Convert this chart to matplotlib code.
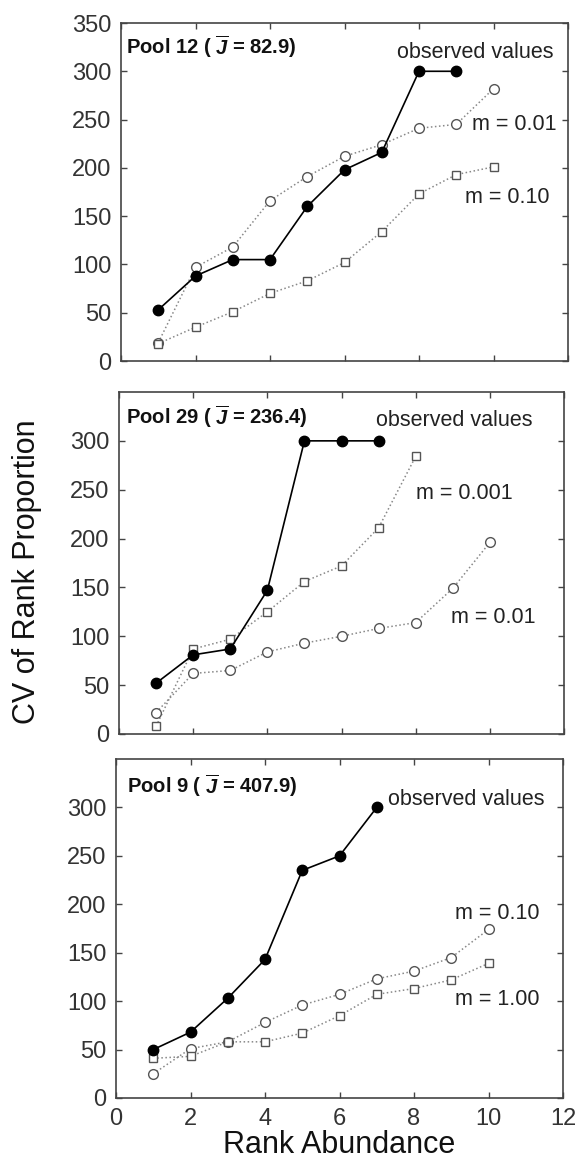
import matplotlib

matplotlib.use("Agg")
import matplotlib.pyplot as plt  # noqa: E402

plt.rcParams["font.family"] = ["Liberation Sans", "DejaVu Sans"]
plt.rcParams["mathtext.fontset"] = "custom"
plt.rcParams["mathtext.it"] = "Liberation Sans:italic:bold"
plt.rcParams["mathtext.rm"] = "Liberation Sans:bold"

# rank abundance (x)
ranks_obs_12 = [1, 2, 3, 4, 5, 6, 7, 8, 9]
ranks_obs_29 = [1, 2, 3, 4, 5, 6, 7]
ranks_obs_9 = [1, 2, 3, 4, 5, 6, 7]
ranks_10 = [1, 2, 3, 4, 5, 6, 7, 8, 9, 10]
ranks_8 = [1, 2, 3, 4, 5, 6, 7, 8]

# Pool 12
pool12_obs = [53, 88, 105, 105, 160, 198, 216, 300, 300]
pool12_m001 = [19, 97, 118, 166, 191, 212, 224, 241, 245, 282]
pool12_m010 = [18, 35, 51, 70, 83, 102, 134, 173, 193, 201]

# Pool 29
pool29_obs = [52, 81, 87, 147, 300, 300, 300]
pool29_m0001 = [8, 87, 97, 125, 156, 172, 211, 284]
pool29_m001 = [22, 62, 65, 84, 93, 100, 108, 114, 149, 196]

# Pool 9
pool9_obs = [50, 68, 103, 143, 235, 250, 300]
pool9_m010 = [25, 51, 58, 78, 96, 107, 123, 131, 145, 174]
pool9_m100 = [41, 43, 58, 58, 67, 85, 107, 113, 122, 139]

FIG_W, FIG_H = 577, 1162
fig = plt.figure(figsize=(FIG_W / 100, FIG_H / 100), dpi=100)


def add_axes(left, top, right, bottom):
    return fig.add_axes([left / FIG_W, 1 - bottom / FIG_H,
                         (right - left) / FIG_W, (bottom - top) / FIG_H])


def style_axes(ax, yticks, show_x):
    ax.set_xlim(0, 12)
    ax.set_ylim(0, 350)
    ax.set_xticks([0, 2, 4, 6, 8, 10, 12])
    ax.set_yticks(yticks)
    ax.tick_params(direction="in", length=4, width=1, top=True, right=True,
                   labelsize=17, colors="#444444", labelcolor="#333333", pad=7)
    if not show_x:
        ax.tick_params(labelbottom=False)
    for sp in ax.spines.values():
        sp.set_color("#444444")
        sp.set_linewidth(1.2)


def draw_obs(ax, x, y):
    ax.plot(x, y, "-", color="black", lw=1.2, marker="o", ms=7.5,
            mfc="black", mec="black", zorder=4)


def draw_model(ax, x, y, marker):
    ms = 7 if marker == "o" else 5.5
    ax.plot(x, y, ":", color="#888888", lw=1.1, marker=marker, ms=ms,
            mfc="white", mec="#555555", mew=1.0, zorder=3)


TXT = dict(fontsize=15.5, color="#222222", va="center", ha="left")
TITLE = dict(fontsize=14.5, fontweight="bold", color="#111111", va="center", ha="left")

# Panel 1: Pool 12
ax1 = add_axes(121, 23, 568, 361)
style_axes(ax1, [0, 50, 100, 150, 200, 250, 300, 350], False)
draw_model(ax1, ranks_10, pool12_m001, "o")
draw_model(ax1, ranks_10, pool12_m010, "s")
draw_obs(ax1, ranks_obs_12, pool12_obs)
ax1.text(0.13, 326, r"Pool 12 ( $\overline{J}$ = 82.9)", **TITLE)
ax1.text(7.42, 319, "observed values", **TXT)
ax1.text(9.43, 245, "m = 0.01", **TXT)
ax1.text(9.24, 169, "m = 0.10", **TXT)

# Panel 2: Pool 29
ax2 = add_axes(119, 392, 564, 734)
style_axes(ax2, [0, 50, 100, 150, 200, 250, 300], False)
draw_model(ax2, ranks_8, pool29_m0001, "s")
draw_model(ax2, ranks_10, pool29_m001, "o")
draw_obs(ax2, ranks_obs_29, pool29_obs)
ax2.text(0.18, 325, r"Pool 29 ( $\overline{J}$ = 236.4)", **TITLE)
ax2.text(6.92, 321, "observed values", **TXT)
ax2.text(8.02, 246, "m = 0.001", **TXT)
ax2.text(8.94, 119, "m = 0.01", **TXT)

# Panel 3: Pool 9
ax3 = add_axes(116, 759, 563, 1098)
style_axes(ax3, [0, 50, 100, 150, 200, 250, 300], True)
draw_model(ax3, ranks_10, pool9_m010, "o")
draw_model(ax3, ranks_10, pool9_m100, "s")
draw_obs(ax3, ranks_obs_9, pool9_obs)
ax3.text(0.29, 323, r"Pool 9 ( $\overline{J}$ = 407.9)", **TITLE)
ax3.text(7.31, 308, "observed values", **TXT)
ax3.text(9.1, 190, "m = 0.10", **TXT)
ax3.text(9.1, 102, "m = 1.00", **TXT)
ax3.set_xlabel("Rank Abundance", fontsize=22, color="#111111", labelpad=0)

fig.text(27 / FIG_W, 1 - 572 / FIG_H, "CV of Rank Proportion", rotation=90,
         fontsize=22, color="#111111", ha="center", va="center")

fig.savefig("out.png", dpi=100, facecolor="white")
